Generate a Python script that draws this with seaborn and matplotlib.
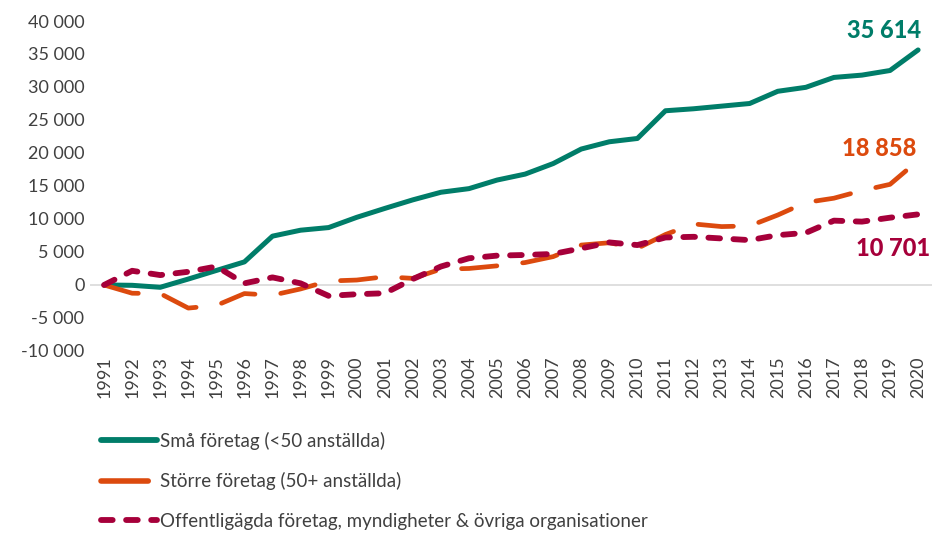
import matplotlib
matplotlib.use("Agg")
import matplotlib.pyplot as plt
from matplotlib.lines import Line2D
import seaborn as sns
import pandas as pd

# -----------------------------
# Data
# -----------------------------
years = list(range(1991, 2021))

sma = [0, -50, -350, 900, 2200, 3500, 7400, 8300, 8700, 10250,
       11600, 12900, 14050, 14600, 15900, 16800, 18400, 20600, 21700, 22200,
       26400, 26700, 27100, 27500, 29350, 29950, 31450, 31800, 32500, 35614]

storre = [0, -1250, -1300, -3500, -3100, -1300, -1550, -600, 600, 750,
          1250, 1000, 2400, 2500, 2900, 3400, 4300, 6050, 6400, 5550,
          7650, 9250, 8850, 8950, 10600, 12500, 13150, 14300, 15250, 18858]

offentliga = [0, 2150, 1500, 2000, 2800, 250, 1150, 250, -1650, -1400,
              -1250, 900, 2800, 4050, 4450, 4550, 4700, 5550, 6450, 6050,
              7200, 7300, 7050, 6800, 7550, 7900, 9750, 9600, 10200, 10701]

labels = ["Små företag (<50 anställda)",
          "Större företag (50+ anställda)",
          "Offentligägda företag, myndigheter & övriga organisationer"]
end_labels = ["35 614", "18 858", "10 701"]

green = "#007D69"
orange = "#DC4A0E"
purple = "#A6003A"

df = pd.DataFrame({"År": years, "sma": sma, "storre": storre, "offentliga": offentliga})

# -----------------------------
# Plot
# -----------------------------
sns.set_style("white")
plt.rcParams["font.family"] = ["Lato", "DejaVu Sans"]

fig = plt.figure(figsize=(9.34, 5.33), dpi=100)
ax = fig.add_axes([0.0964, 0.3415, 0.9016, 0.6191])

ax.axhline(0, color="#D9D9D9", lw=1.2, zorder=1)

sns.lineplot(data=df, x="År", y="sma", ax=ax, color=green, lw=3.6,
             solid_capstyle="round", zorder=3)
sns.lineplot(data=df, x="År", y="storre", ax=ax, color=orange, lw=3.4,
             linestyle=(0, (7.5, 5.5)), dash_capstyle="round", zorder=3)
sns.lineplot(data=df, x="År", y="offentliga", ax=ax, color=purple, lw=4.2,
             linestyle=(0, (2.0, 2.3)), dash_capstyle="round", zorder=4)

ax.set_xlim(1990.5, 2020.5)
ax.set_ylim(-10000, 40000)
ax.set_xticks(years)
ax.set_xticklabels([str(y) for y in years], rotation=90)
yt = list(range(-10000, 40001, 5000))
ax.set_yticks(yt)
ax.set_yticklabels([f"{v:,}".replace(",", " ") for v in yt])
ax.tick_params(axis="both", length=0, labelsize=13, colors="#404040", pad=4)
ax.set_xlabel("")
ax.set_ylabel("")
sns.despine(ax=ax, left=True, bottom=True)

# end value labels
ax.text(2018.8, 38500, end_labels[0], color=green, fontsize=17, fontweight=900,
        ha="center", va="center")
ax.text(2018.6, 20700, end_labels[1], color=orange, fontsize=17, fontweight=900,
        ha="center", va="center")
ax.text(2019.1, 5600, end_labels[2], color=purple, fontsize=17, fontweight=900,
        ha="center", va="center")

handles = [
    Line2D([], [], color=green, lw=4.2, solid_capstyle="round"),
    Line2D([], [], color=orange, lw=4.0, linestyle=(0, (8.5, 20)), dash_capstyle="round"),
    Line2D([], [], color=purple, lw=4.2, linestyle=(0, (2.0, 2.3)), dash_capstyle="round"),
]
fig.legend(handles, labels, loc="upper left", bbox_to_anchor=(0.1, 0.204), frameon=False,
           fontsize=13.5, handlelength=3.0, handletextpad=0.15, labelspacing=1.2,
           borderaxespad=0, labelcolor="#404040")

fig.savefig("out.png", dpi=100)
